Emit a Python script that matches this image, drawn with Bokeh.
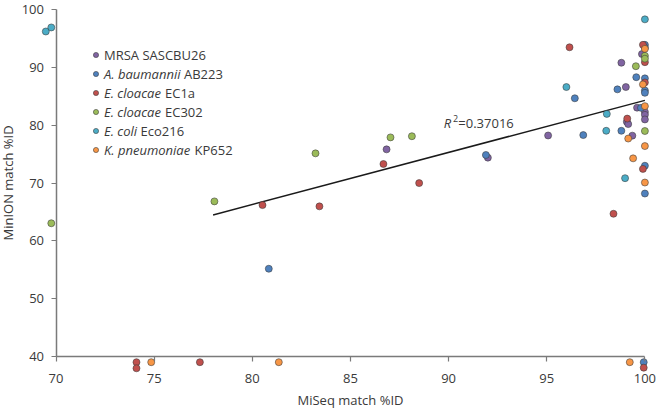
from bokeh.plotting import figure
from bokeh.models import Range1d, FixedTicker, Label, Legend, LegendItem
from bokeh.core.properties import value
from bokeh.embed import file_html
from bokeh.resources import INLINE

# ---------------- data ----------------
series_italic = ["", "A. baumannii", "E. cloacae", "E. cloacae", "E. coli", "K. pneumoniae"]
series_plain = ["MRSA SASCBU26", "AB223", "EC1a", "EC302", "Eco216", "KP652"]

mrsa_x = [86.84, 92.0, 95.07, 98.8, 99.85, 99.03, 99.6, 100, 100, 100, 99.08, 99.15, 99.36]
mrsa_y = [75.83, 74.4, 78.23, 90.8, 92.3, 86.6, 83.04, 82.3, 81.8, 81.0, 80.6, 80.2, 78.2]

abau_x = [80.84, 91.9, 96.43, 96.86, 98.6, 98.8, 99.56, 100, 100, 100, 100, 100, 99.8, 100, 100, 99.94]
abau_y = [55.2, 74.86, 84.66, 78.3, 86.2, 79.04, 88.3, 88.1, 86.0, 85.6, 93.9, 93.4, 83.0, 73.0, 68.2, 39.05]

ec1a_x = [74.1, 74.1, 77.33, 80.52, 83.42, 86.68, 88.5, 96.16, 99.9, 100, 99.1, 99.9, 98.4, 99.94, 100]
ec1a_y = [39.05, 38.0, 39.05, 66.2, 65.98, 73.3, 70.0, 93.47, 93.9, 90.9, 81.15, 72.45, 64.7, 38.1, 87.4]

ec302_x = [69.76, 78.07, 83.22, 87.04, 88.13, 99.54, 100, 100, 100]
ec302_y = [63.06, 66.84, 75.14, 77.9, 78.1, 90.2, 92.0, 91.5, 79.0]

ecoli_x = [69.48, 69.76, 96.0, 98.06, 98.03, 98.99, 100]
ecoli_y = [96.2, 96.9, 86.6, 81.96, 79.04, 70.85, 98.3]

kpn_x = [74.85, 81.35, 99.9, 100, 99.15, 100, 99.4, 100, 99.23, 100]
kpn_y = [39.05, 39.05, 87.06, 83.3, 77.7, 76.4, 74.28, 70.1, 39.05, 93.2]

fit_x = [78.0, 100.0]
fit_y = [64.5, 84.3]
r2_text = "=0.37016"

x_ticks = [70, 75, 80, 85, 90, 95, 100]
y_ticks = [40, 50, 60, 70, 80, 90, 100]

# ---------------- layout helpers ----------------
W, H = 657, 411
PXX = 19.63            # px per x unit
X70 = 55.5             # canvas px of x=70
Y100 = 9.0             # canvas px of y=100
Y40 = 356.2            # canvas px of y=40
PXY = (Y40 - Y100) / 60.0

def xd(px):
    return 70 + (px - X70) / PXX

def yd(py):
    return 100 - (py - Y100) / PXY

colors = ["#8064A2", "#4F81BD", "#C0504D", "#9BBB59", "#4BACC6", "#F79646"]
FONT = "Open Sans"
TXT = "#3a3a3a"

p = figure(width=W, height=H, output_backend="svg", toolbar_location=None,
           x_range=Range1d(xd(0), xd(W)), y_range=Range1d(yd(H), yd(0)),
           min_border_left=0, min_border_right=0, min_border_top=0, min_border_bottom=0)
p.outline_line_color = None
p.xgrid.visible = False
p.ygrid.visible = False
p.background_fill_color = "white"

for ax, loc, bnds, tks in ((p.xaxis, 40, (70, 100), x_ticks), (p.yaxis, 70, (40, 100), y_ticks)):
    ax.fixed_location = loc
    ax.bounds = bnds
    ax.ticker = FixedTicker(ticks=tks)
    ax.minor_tick_line_color = None
    ax.major_tick_in = 0
    ax.major_tick_out = 5
    ax.axis_line_color = "#7a7a7a"
    ax.axis_line_width = 1.5
    ax.major_tick_line_color = "#7a7a7a"
    ax.major_tick_line_width = 1.2
    ax.major_label_text_font = FONT
    ax.major_label_text_font_size = "13px"
    ax.major_label_text_color = TXT
    ax.axis_label_text_font = FONT
    ax.axis_label_text_font_size = "13px"
    ax.axis_label_text_font_style = "normal"
    ax.axis_label_text_color = TXT

p.xaxis.axis_label = "MiSeq match %ID"
p.yaxis.axis_label = "MinION match %ID"
p.xaxis.major_label_standoff = 12
p.xaxis.axis_label_standoff = 5
p.yaxis.major_label_standoff = 7
p.yaxis.axis_label_standoff = 2

p.line(fit_x, fit_y, line_color="#1a1a1a", line_width=1.5)

all_x = [mrsa_x, abau_x, ec1a_x, ec302_x, ecoli_x, kpn_x]
all_y = [mrsa_y, abau_y, ec1a_y, ec302_y, ecoli_y, kpn_y]
renderers = []
for xs, ys, c in zip(all_x, all_y, colors):
    r = p.scatter(xs, ys, size=7, fill_color=c, line_color="#3a3a3a", line_alpha=0.7, line_width=0.8)
    renderers.append(r)

# legend swatches
row_h = 19
leg_top = 45.0
leg_bottom = leg_top + row_h * 6
legend = Legend(items=[LegendItem(label=value(" "), renderers=[r]) for r in renderers],
                location=(88.5, H - leg_bottom), glyph_width=13, glyph_height=row_h,
                label_height=row_h, label_width=0, label_standoff=0, spacing=0,
                padding=0, margin=0, border_line_color=None, background_fill_alpha=0,
                label_text_font_size="1px")
p.add_layout(legend)

# legend texts
plain_offsets = [0, 80.0, 61.0, 61.0, 36.5, 90.5]
for i in range(6):
    py = leg_top + row_h * (i + 0.5)
    if series_italic[i]:
        p.add_layout(Label(x=xd(103.5), y=yd(py), text=series_italic[i], text_font=FONT,
                           text_font_size="13px", text_font_style="italic", text_color=TXT,
                           text_baseline="middle"))
    p.add_layout(Label(x=xd(103.5), y=yd(py), x_offset=plain_offsets[i], text=series_plain[i],
                       text_font=FONT, text_font_size="13px", text_color=TXT,
                       text_baseline="middle"))

# R^2 annotation
r2x, r2y = xd(443.3), yd(122)
p.add_layout(Label(x=r2x, y=r2y, text="R", text_font=FONT, text_font_size="13px",
                   text_font_style="italic", text_color=TXT, text_baseline="middle"))
p.add_layout(Label(x=r2x, y=r2y, x_offset=9.2, y_offset=4, text="2", text_font=FONT,
                   text_font_size="9px", text_color=TXT, text_baseline="middle"))
p.add_layout(Label(x=r2x, y=r2y, x_offset=14.5, text=r2_text, text_font=FONT,
                   text_font_size="13px", text_color=TXT, text_baseline="middle"))

open("out.html", "w").write(file_html(p, INLINE))
